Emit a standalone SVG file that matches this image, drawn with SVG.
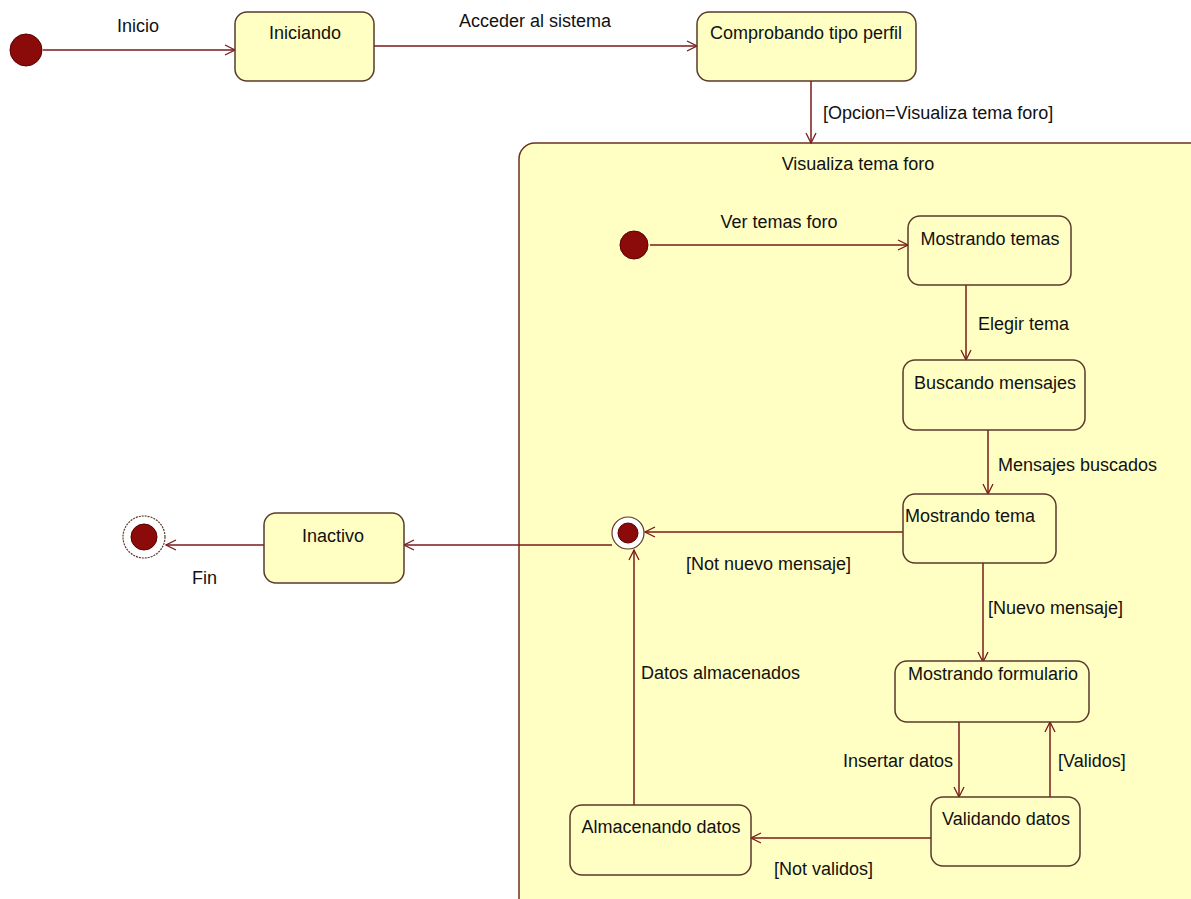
<svg xmlns="http://www.w3.org/2000/svg" width="1191" height="899" viewBox="0 0 1191 899">
<defs>
<style>
.st{fill:#ffffc4;stroke:#5a3a2a;stroke-width:1.5}
.cont{fill:#ffffc4;stroke:#6b3020;stroke-width:1.5}
.t{font-family:"Liberation Sans",Arial,sans-serif;font-size:18px;fill:#111}
.tc{text-anchor:middle}
.e{fill:none;stroke:#7a1a1a;stroke-width:1.5}
.dot{fill:#8b0a0a;stroke:#5a0000;stroke-width:1}
</style>
<marker id="arr" viewBox="0 0 12 12" refX="11" refY="6" markerWidth="12" markerHeight="12" markerUnits="userSpaceOnUse" orient="auto">
<path d="M1,1 L11,6 L1,11" fill="none" stroke="#7a1a1a" stroke-width="1.3"/>
</marker>
</defs>
<rect width="1191" height="899" fill="#ffffff"/>

<g id="container">
<rect class="cont" x="519" y="143" width="700" height="800" rx="16"/>
<text class="t tc" x="858" y="170">Visualiza tema foro</text>
</g>

<g id="connectors">
<line class="e" x1="43" y1="50" x2="235" y2="50" marker-end="url(#arr)"/>
<text class="t tc" x="138" y="32">Inicio</text>
<line class="e" x1="374" y1="46" x2="697" y2="46" marker-end="url(#arr)"/>
<text class="t tc" x="535" y="27">Acceder al sistema</text>
<line class="e" x1="811" y1="81" x2="811" y2="143" marker-end="url(#arr)"/>
<text class="t" x="823" y="119">[Opcion=Visualiza tema foro]</text>
<line class="e" x1="650" y1="245" x2="908" y2="245" marker-end="url(#arr)"/>
<text class="t tc" x="779" y="228">Ver temas foro</text>
<line class="e" x1="966" y1="285" x2="966" y2="360" marker-end="url(#arr)"/>
<text class="t" x="978" y="330">Elegir tema</text>
<line class="e" x1="988" y1="430" x2="988" y2="494" marker-end="url(#arr)"/>
<text class="t" x="998" y="471">Mensajes buscados</text>
<line class="e" x1="903" y1="532" x2="645" y2="532" marker-end="url(#arr)"/>
<text class="t" x="686" y="570">[Not nuevo mensaje]</text>
<line class="e" x1="612" y1="545" x2="404" y2="545" marker-end="url(#arr)"/>
<line class="e" x1="264" y1="545" x2="166" y2="545" marker-end="url(#arr)"/>
<text class="t" x="192" y="584">Fin</text>
<line class="e" x1="983" y1="563" x2="983" y2="662" marker-end="url(#arr)"/>
<text class="t" x="988" y="614">[Nuevo mensaje]</text>
<line class="e" x1="959" y1="722" x2="959" y2="797" marker-end="url(#arr)"/>
<text class="t" x="953" y="767" text-anchor="end">Insertar datos</text>
<line class="e" x1="1050" y1="797" x2="1050" y2="722" marker-end="url(#arr)"/>
<text class="t" x="1058" y="767">[Validos]</text>
<line class="e" x1="931" y1="838" x2="751" y2="838" marker-end="url(#arr)"/>
<text class="t" x="774" y="875">[Not validos]</text>
<line class="e" x1="634" y1="805" x2="634" y2="550" marker-end="url(#arr)"/>
<text class="t" x="641" y="679">Datos almacenados</text>
</g>

<g id="initial"><circle class="dot" cx="26" cy="50" r="16"/></g>

<g id="iniciando">
<rect class="st" x="235" y="12" width="139" height="69" rx="12"/>
<text class="t tc" x="305" y="39">Iniciando</text>
</g>

<g id="comprobando">
<rect class="st" x="697" y="12" width="219" height="69" rx="12"/>
<text class="t tc" x="806" y="39">Comprobando tipo perfil</text>
</g>

<g id="initial2"><circle class="dot" cx="634" cy="245" r="14"/></g>

<g id="mostrando-temas">
<rect class="st" x="908" y="216" width="163" height="69" rx="12"/>
<text class="t tc" x="990" y="245">Mostrando temas</text>
</g>

<g id="buscando">
<rect class="st" x="903" y="360" width="182" height="70" rx="12"/>
<text class="t tc" x="995" y="389">Buscando mensajes</text>
</g>

<g id="mostrando-tema">
<rect class="st" x="903" y="494" width="153" height="69" rx="12"/>
<text class="t tc" x="970" y="522">Mostrando tema</text>
</g>

<g id="final-inner">
<circle cx="628" cy="533" r="16" fill="#ffffff" stroke="#5a3a2a" stroke-width="1.2"/>
<circle class="dot" cx="628" cy="533" r="10"/>
</g>

<g id="inactivo">
<rect class="st" x="264" y="513" width="140" height="70" rx="12"/>
<text class="t tc" x="333" y="542">Inactivo</text>
</g>

<g id="final">
<circle cx="144" cy="537" r="21" fill="#ffffff" stroke="#5a3a2a" stroke-width="1.2" stroke-dasharray="2,1"/>
<circle class="dot" cx="144" cy="537" r="13"/>
</g>

<g id="mostrando-formulario">
<rect class="st" x="895" y="661" width="194" height="61" rx="12"/>
<text class="t tc" x="993" y="680">Mostrando formulario</text>
</g>

<g id="validando">
<rect class="st" x="931" y="797" width="149" height="69" rx="12"/>
<text class="t tc" x="1006" y="825">Validando datos</text>
</g>

<g id="almacenando">
<rect class="st" x="570" y="805" width="181" height="70" rx="12"/>
<text class="t tc" x="661" y="833">Almacenando datos</text>
</g>
</svg>
